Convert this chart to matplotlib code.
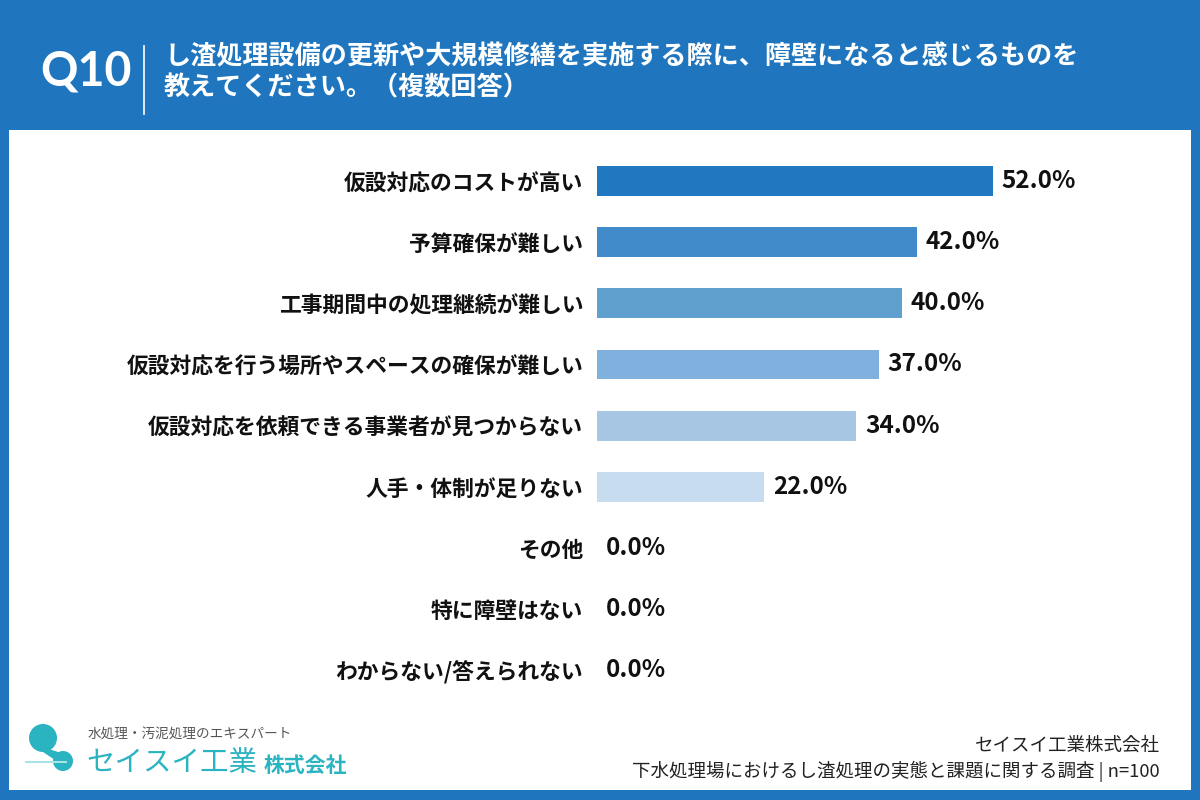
import matplotlib
matplotlib.use("Agg")
import matplotlib.pyplot as plt
from matplotlib.patches import Rectangle, Ellipse, Polygon

plt.rcParams['font.family'] = ['Noto Sans CJK JP', 'DejaVu Sans']

categories = [
    "仮設対応のコストが高い",
    "予算確保が難しい",
    "工事期間中の処理継続が難しい",
    "仮設対応を行う場所やスペースの確保が難しい",
    "仮設対応を依頼できる事業者が見つからない",
    "人手・体制が足りない",
    "その他",
    "特に障壁はない",
    "わからない/答えられない",
]
values = [52.0, 42.0, 40.0, 37.0, 34.0, 22.0, 0.0, 0.0, 0.0]
bar_colors = ["#1f78c0", "#418bcb", "#5fa0cf", "#80b1de", "#a6c6e4", "#c8dcef",
              "#c8dcef", "#c8dcef", "#c8dcef"]

title_q = "Q10"
title_lines = ["し渣処理設備の更新や大規模修繕を実施する際に、障壁になると感じるものを",
               "教えてください。（複数回答）"]
logo_tag = "水処理・汚泥処理のエキスパート"
logo_name = "セイスイ工業"
logo_suffix = "株式会社"
source_lines = ["セイスイ工業株式会社", "下水処理場におけるし渣処理の実態と課題に関する調査 | n=100"]

W, H = 1200, 800
BLUE = "#1f76be"
TEAL = "#2ab3c0"

fig = plt.figure(figsize=(12, 8), dpi=100, facecolor=BLUE)

def fx(x):
    return x / W

def fy(y):
    return 1 - y / H

# white panel
fig.patches.append(Rectangle((fx(9), fy(790)), fx(1191 - 9), (790 - 130) / H,
                             transform=fig.transFigure, facecolor="white",
                             edgecolor="none", zorder=-5))

# title
fig.text(fx(40), fy(71), title_q, color="white", fontsize=33.5, fontweight="bold",
         va="center", ha="left", family=['Lato', 'DejaVu Sans'])
fig.add_artist(plt.Line2D([fx(144), fx(144)], [fy(46), fy(114)],
                          transform=fig.transFigure, color="white", lw=1.2))
fig.text(fx(164), fy(57), title_lines[0], color="white", fontsize=18.8,
         fontweight="bold", va="center", ha="left")
fig.text(fx(164), fy(88), title_lines[1], color="white", fontsize=18.8,
         fontweight="bold", va="center", ha="left")

# axes
ax = fig.add_axes([fx(597), fy(700.6), fx(1168 - 597), 550 / H])
ax.set_zorder(2)
ax.set_facecolor("none")
y = list(range(len(categories)))
ax.barh(y, values, height=0.49, color=bar_colors, edgecolor="none")
ax.set_xlim(0, 75)
ax.set_ylim(len(categories) - 0.5, -0.5)
ax.set_yticks(y)
ax.set_yticklabels(categories, fontsize=15.7, fontweight="bold", color="#111111")
ax.tick_params(axis="y", length=0, pad=10)
ax.set_xticks([])
for s in ax.spines.values():
    s.set_visible(False)
for yi, v in zip(y, values):
    ax.annotate(f"{v:.1f}%", xy=(v, yi), xytext=(6.5, 0), textcoords="offset points",
                va="center", ha="left", fontsize=17.5, fontweight="bold",
                color="#111111")

# logo
fig.patches.append(Ellipse((fx(43), fy(738)), 28 / W, 28 / H, transform=fig.transFigure,
                           facecolor=TEAL, edgecolor="none", zorder=2))
fig.patches.append(Ellipse((fx(63), fy(761)), 20 / W, 20 / H, transform=fig.transFigure,
                           facecolor=TEAL, edgecolor="none", zorder=2))
fig.patches.append(Polygon([(fx(40), fy(750)), (fx(49), fy(749)),
                            (fx(61), fy(753)), (fx(55), fy(760))],
                           closed=True, transform=fig.transFigure,
                           facecolor=TEAL, edgecolor="none", zorder=2))
fig.add_artist(plt.Line2D([fx(26), fx(66)], [fy(762), fy(762)],
                          transform=fig.transFigure, color="#a8e3e8", lw=1.5,
                          zorder=3))
fig.text(fx(88), fy(734), logo_tag, color="#555555", fontsize=9.8,
         va="center", ha="left")
fig.text(fx(86), fy(763), logo_name, color=TEAL, fontsize=20.5,
         va="center", ha="left")
fig.text(fx(264), fy(765), logo_suffix, color=TEAL, fontsize=15,
         fontweight="bold", va="center", ha="left")

# source
fig.text(fx(1160), fy(746), source_lines[0], color="#222222", fontsize=13.3,
         va="center", ha="right")
fig.text(fx(1160), fy(771), source_lines[1], color="#222222", fontsize=13.3,
         va="center", ha="right")

fig.savefig("out.png", dpi=100, facecolor=BLUE)
